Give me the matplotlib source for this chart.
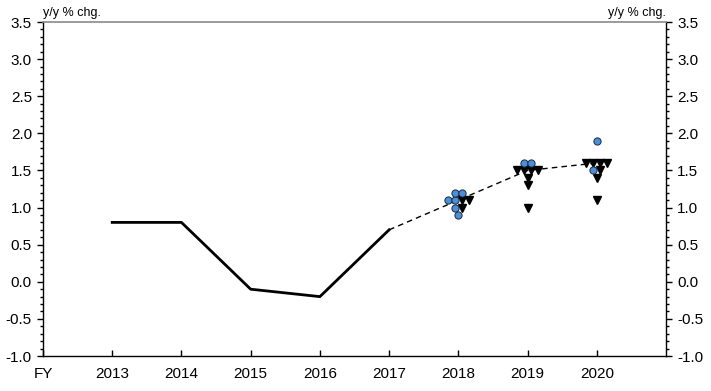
import matplotlib
matplotlib.use("Agg")
import matplotlib.pyplot as plt
import numpy as np
from matplotlib.ticker import MultipleLocator

plt.rcParams['font.family'] = ['Liberation Sans', 'DejaVu Sans']

# actual figures
years_actual = [2013, 2014, 2015, 2016, 2017]
cpi_actual = [0.8, 0.8, -0.1, -0.2, 0.7]

# median forecast path
years_fcst = [2017, 2018, 2019, 2020]
cpi_fcst = [0.7, 1.1, 1.5, 1.6]

# individual forecasts (circles / triangles)
circle_pts = {
    2018: [1.2, 1.2, 1.1, 1.1, 1.0, 0.9],
    2019: [1.6, 1.6],
    2020: [1.9, 1.5],
}
tri_pts = {
    2018: [1.1, 1.1, 1.0],
    2019: [1.5, 1.5, 1.5, 1.5, 1.4, 1.3, 1.0],
    2020: [1.6, 1.6, 1.6, 1.6, 1.5, 1.4, 1.1],
}

x_labels = ['FY', '2013', '2014', '2015', '2016', '2017', '2018', '2019', '2020']

fig = plt.figure(figsize=(7.11, 3.91), dpi=100)
ax = fig.add_axes([43/711, 35/391, 623/711, 334/391])

ax.plot(years_actual, cpi_actual, color='black', lw=2.0, solid_joinstyle='miter')
ax.plot(years_fcst, cpi_fcst, color='black', lw=1.0, ls=(0, (4, 3)))

# spread markers sharing the same year/value side by side
step = 0.1
for yr in sorted(set(circle_pts) | set(tri_pts)):
    circ = circle_pts.get(yr, [])
    tri = tri_pts.get(yr, [])
    for v in sorted(set(circ) | set(tri)):
        kinds = ['o'] * circ.count(v) + ['v'] * tri.count(v)
        n = len(kinds)
        offs = (np.arange(n) - (n - 1) / 2) * step
        for k, dx in zip(kinds, offs):
            if k == 'o':
                ax.plot(yr + dx, v, marker='o', ms=5.2, mfc='#4a8fd8', mec='#1a2a40',
                        mew=0.7, ls='none', zorder=4)
            else:
                ax.plot(yr + dx, v, marker='v', ms=5.8, mfc='black', mec='black',
                        ls='none', zorder=3)

ax.set_xlim(2012, 2021)
ax.set_ylim(-1.0, 3.5)
ax.set_xticks(range(2012, 2021))
ax.set_xticklabels(x_labels)
ax.yaxis.set_major_locator(MultipleLocator(0.5))
ax.yaxis.set_minor_locator(MultipleLocator(0.1))
ax.yaxis.set_major_formatter(matplotlib.ticker.FormatStrFormatter('%.1f'))

ax.tick_params(axis='y', which='major', direction='out', length=4, width=1,
               labelsize=11, left=True, right=True, labelleft=True, labelright=True, pad=4)
ax.tick_params(axis='y', which='minor', direction='out', length=2.5, width=1,
               left=True, right=True)
ax.tick_params(axis='x', which='major', direction='in', length=4, width=1,
               labelsize=11, pad=8)

for s in ['left', 'right', 'bottom']:
    ax.spines[s].set_linewidth(1.0)
    ax.spines[s].set_color('black')
ax.spines['top'].set_color('#8a8a8a')
ax.spines['top'].set_linewidth(1.2)

ax.text(0.0, 1.008, 'y/y % chg.', transform=ax.transAxes, fontsize=9,
        ha='left', va='bottom')
ax.text(1.0, 1.008, 'y/y % chg.', transform=ax.transAxes, fontsize=9,
        ha='right', va='bottom')

fig.savefig('out.png', dpi=100)
